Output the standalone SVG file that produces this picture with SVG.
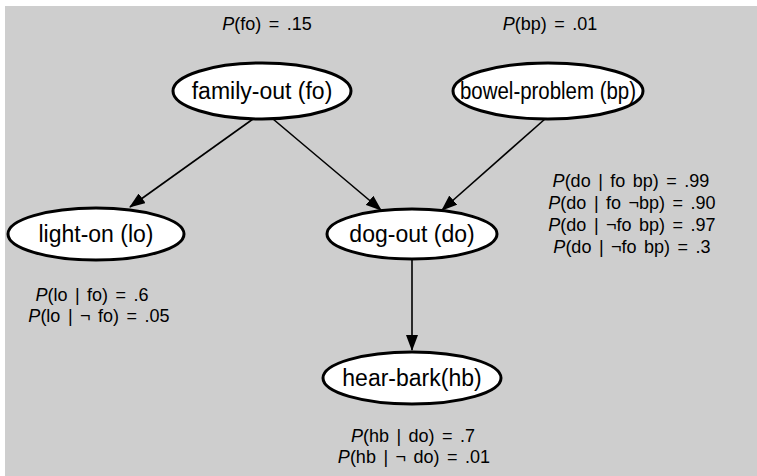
<svg xmlns="http://www.w3.org/2000/svg" width="757" height="476" viewBox="0 0 757 476">
<style>
.node ellipse{fill:#fff;stroke:#000;stroke-width:3}
.lbl{font-family:"Liberation Sans",Arial,sans-serif;font-size:23px;text-anchor:middle;fill:#000}
.p{font-family:"Liberation Sans",Arial,sans-serif;font-size:18px;word-spacing:2.5px;text-anchor:middle;fill:#000}
.edge{stroke:#000;stroke-width:1.6;fill:none;marker-end:url(#ah)}
.i{font-style:italic}
</style>
<defs>
<marker id="ah" markerUnits="userSpaceOnUse" markerWidth="16" markerHeight="12" refX="15" refY="6" orient="auto">
<path d="M0,0 L16,6 L0,12 z" fill="#000"/>
</marker>
</defs>
<rect x="0" y="0" width="757" height="476" fill="#fff"/>
<rect x="5" y="6" width="752" height="470" fill="#cecece"/>
<g id="connectors">
<line class="edge" x1="253" y1="119" x2="130" y2="207"/>
<line class="edge" x1="273" y1="119" x2="381" y2="210"/>
<line class="edge" x1="545" y1="119" x2="442" y2="210"/>
<line class="edge" x1="412" y1="259" x2="412" y2="350"/>
</g>
<g id="fo" class="node">
<ellipse cx="262" cy="91" rx="89" ry="28"/>
<text class="lbl" x="262" y="99">family-out (fo)</text>
</g>
<g id="bp" class="node">
<ellipse cx="548" cy="91" rx="95" ry="28"/>
<text class="lbl" x="548" y="99" textLength="176" lengthAdjust="spacingAndGlyphs">bowel-problem (bp)</text>
</g>
<g id="lo" class="node">
<ellipse cx="96" cy="234" rx="88" ry="26"/>
<text class="lbl" x="96" y="242">light-on (lo)</text>
</g>
<g id="do" class="node">
<ellipse cx="412" cy="234" rx="85" ry="25"/>
<text class="lbl" x="412" y="242">dog-out (do)</text>
</g>
<g id="hb" class="node">
<ellipse cx="412" cy="378" rx="89" ry="26"/>
<text class="lbl" x="412" y="386">hear-bark(hb)</text>
</g>
<g id="probs">
<text class="p" x="267" y="30"><tspan class="i">P</tspan>(fo) = .15</text>
<text class="p" x="550" y="30"><tspan class="i">P</tspan>(bp) = .01</text>
<text class="p" x="631" y="187"><tspan class="i">P</tspan>(do | fo bp) = .99</text>
<text class="p" x="632" y="209"><tspan class="i">P</tspan>(do | fo ¬bp) = .90</text>
<text class="p" x="632" y="231"><tspan class="i">P</tspan>(do | ¬fo bp) = .97</text>
<text class="p" x="632" y="253"><tspan class="i">P</tspan>(do | ¬fo bp) = .3</text>
<text class="p" x="92" y="301"><tspan class="i">P</tspan>(lo | fo) = .6</text>
<text class="p" x="99" y="322"><tspan class="i">P</tspan>(lo | ¬  fo) = .05</text>
<text class="p" x="413" y="442"><tspan class="i">P</tspan>(hb | do) = .7</text>
<text class="p" x="414" y="463"><tspan class="i">P</tspan>(hb | ¬ do) = .01</text>
</g>
</svg>
